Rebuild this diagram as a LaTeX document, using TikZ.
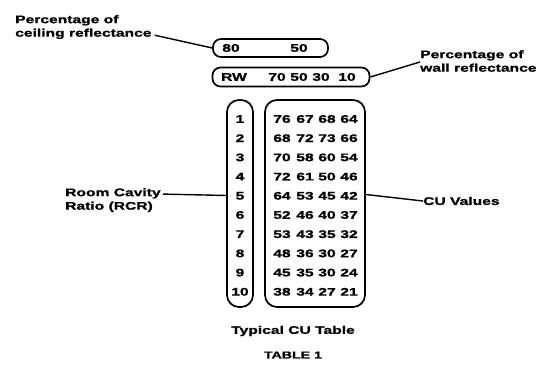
\documentclass[tikz,border=0pt]{standalone}
\usepackage{fontspec}
\setmainfont{Liberation Sans}
\newfontfamily\lblfont[FakeStretch=1.42,FakeBold=1.2]{Liberation Sans Bold}
\begin{document}
\begin{tikzpicture}[x=1pt,y=-1pt,
  lbl/.style={font=\lblfont\fontsize{11}{13.5}\selectfont,align=left,inner sep=0pt},
  num/.style={font=\lblfont\fontsize{11}{12}\selectfont,inner sep=0pt},
  rbox/.style={draw,line width=1.7pt,rounded corners=8pt,inner sep=0pt},
  conn/.style={line width=1.4pt}]
\useasboundingbox (0,0) rectangle (536,367);
% boxes
\node[rbox,minimum width=115pt,minimum height=18pt] (b1) at (270.5,48) {};
\node[rbox,minimum width=157pt,minimum height=19pt] (b2) at (291,77) {};
\node[rbox,rounded corners=12pt,minimum width=26pt,minimum height=207pt] (rcr) at (240,203.5) {};
\node[rbox,rounded corners=12pt,minimum width=100pt,minimum height=207pt] (tbl) at (315,203.5) {};
% box texts
\node[num] (c80) at (231,48) {80};
\node[num] (c50) at (299,48) {50};
\node[num] (rw) at (234,77) {RW};
\node[num] (w70) at (277,77) {70};
\node[num] (w50) at (299,77) {50};
\node[num] (w30) at (321,77) {30};
\node[num] (w10) at (347,77) {10};
% RCR column and CU values
\foreach \r/\a/\b/\c/\d [count=\i from 0] in {1/76/67/68/64,2/68/72/73/66,3/70/58/60/54,4/72/61/50/46,5/64/53/45/42,6/52/46/40/37,7/53/43/35/32,8/48/36/30/27,9/45/35/30/24,10/38/34/27/21}{
  \node[num] (r\r) at (240,{119+\i*19.2}) {\r};
  \node[num] (ca\r) at (282,{119+\i*19.2}) {\a};
  \node[num] (cb\r) at (305,{119+\i*19.2}) {\b};
  \node[num] (cc\r) at (327,{119+\i*19.2}) {\c};
  \node[num] (cd\r) at (349,{119+\i*19.2}) {\d};
}
% labels
\node[lbl,anchor=north west] (ceil) at (15,15) {Percentage of\\ceiling reflectance};
\node[lbl,anchor=north west] (wall) at (420,50) {Percentage of\\wall reflectance};
\node[lbl,anchor=north west] (room) at (65,188) {Room Cavity\\Ratio (RCR)};
\node[lbl,anchor=west] (cu) at (423,201) {CU Values};
\node[lbl,anchor=center] (cap) at (293,331) {Typical CU Table};
\node[lbl,anchor=center,font=\lblfont\fontsize{10}{12}\selectfont] (tab) at (293,355) {TABLE 1};
% connectors
\draw[conn] ([xshift=3pt,yshift=4pt]ceil.south east) -- (b1.west);
\draw[conn] (b2.east) -- ([yshift=-1pt]wall.west);
\draw[conn] ([xshift=2pt,yshift=6pt]room.east) -- ([yshift=8pt]rcr.west);
\draw[conn] ([yshift=9pt]tbl.east) -- (cu.west);
\end{tikzpicture}
\end{document}
